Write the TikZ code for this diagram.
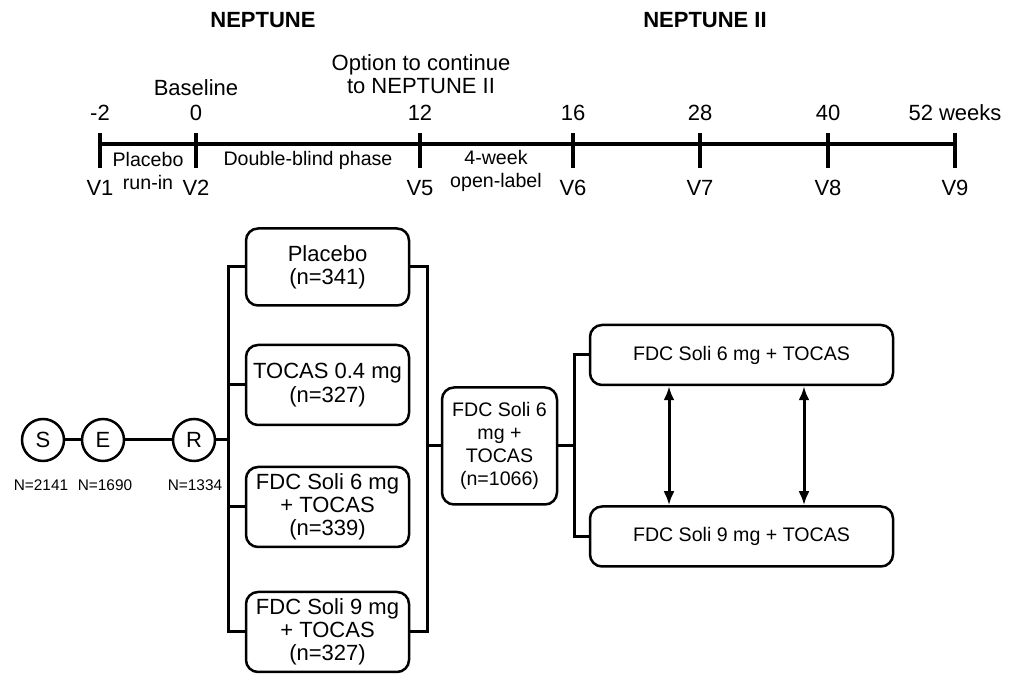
\documentclass[tikz,border=0pt]{standalone}
\usepackage{fontspec}
\setmainfont{Liberation Sans}
\usetikzlibrary{arrows.meta}
\begin{document}
\begin{tikzpicture}[x=1pt,y=1pt,>={Latex[length=14pt,width=11pt]},
    big/.style={font=\fontsize{22}{23.5}\selectfont},
    mid/.style={font=\fontsize{19.6}{23}\selectfont,align=center},
    small/.style={font=\fontsize{15.4}{17}\selectfont},
    link/.style={line width=3pt},
    tickline/.style={line width=3.4pt},
    arm/.style={draw,line width=2.5pt,rounded corners=12pt,minimum width=163pt,
        minimum height=80pt,inner sep=1pt,align=center,
        font=\fontsize{22}{23.3}\selectfont},
    stage/.style={draw,circle,line width=2.5pt,minimum size=42pt,inner sep=0pt,big}]
    \useasboundingbox (0,0) rectangle (1021,674);
    % titles
    \node[font=\bfseries\fontsize{22}{24}\selectfont] (tN1) at (263,654) {NEPTUNE};
    \node[font=\bfseries\fontsize{22}{24}\selectfont] (tN2) at (705,654) {NEPTUNE II};
    %===========================================
    % time line
    \draw[tickline] (100,530) -- (955,530);
    \foreach \x/\w/\v in {100/-2/V1,196/0/V2,420/12/V5,573/16/V6,
                          700/28/V7,828/40/V8,955/52 weeks/V9}{
        \draw[tickline] (\x,541) -- (\x,506);
        \node[big] (w\v) at (\x,561) {\w};
        \node[big] (n\v) at (\x,486) {\v};}
    \node[big] (base) at (196,586) {Baseline};
    \node[big,align=center] (opt) at (421,600) {Option to continue\\to NEPTUNE II};
    \node[mid] (runin) at (148,503) {Placebo\\run-in};
    \node[mid] (dbl) at (308,514) {Double-blind phase};
    \node[mid] (open) at (496,503) {4-week\\open-label};
    %===========================================
    % flow
    \node[stage] (S) at (43,234) {S};
    \node[stage] (E) at (103,234) {E};
    \node[stage] (R) at (194,234) {R};
    \node[small] (nS) at (41,189) {N=2141};
    \node[small] (nE) at (105,189) {N=1690};
    \node[small] (nR) at (195,189) {N=1334};
    \node[arm,minimum height=77pt] (arm1) at (327.5,407) {Placebo\\(n=341)};
    \node[arm] (arm2) at (327.5,289) {TOCAS 0.4 mg\\(n=327)};
    \node[arm] (arm3) at (327.5,167) {FDC Soli 6 mg\\+ TOCAS\\(n=339)};
    \node[arm] (arm4) at (327.5,42) {FDC Soli 9 mg\\+ TOCAS\\(n=327)};
    \node[arm,minimum width=115pt,minimum height=117pt,mid] (ext) at (499.5,228)
        {FDC Soli 6\\mg +\\TOCAS\\(n=1066)};
    \node[arm,minimum width=303pt,minimum height=60pt,mid] (soli6) at (741.5,319)
        {FDC Soli 6 mg + TOCAS};
    \node[arm,minimum width=303pt,minimum height=60pt,mid] (soli9) at (741.5,137.5)
        {FDC Soli 9 mg + TOCAS};
    \coordinate (busL) at (228,0);
    \coordinate (busR) at (427,0);
    \coordinate (busX) at (574,0);
    \draw[link] (S) -- (E);
    \draw[link] (E) -- (R);
    \draw[link] (R) -- (busL |- R);
    \draw[link] (arm1.west) -| (busL |- arm4) -- (arm4.west);
    \draw[link] (arm2.west) -- (busL |- arm2);
    \draw[link] (arm3.west) -- (busL |- arm3);
    \draw[link] (arm1.east) -| (busR |- arm4) -- (arm4.east);
    \draw[link] (busR |- ext) -- (ext.west);
    \draw[link] (ext.east) -- (busX |- ext);
    \draw[link] (soli6.west) -| (busX |- soli9) -- (soli9.west);
    \draw[link,<->] ([xshift=-72.5pt]soli6.south) -- ([xshift=-72.5pt]soli9.north);
    \draw[link,<->] ([xshift=62.5pt]soli6.south) -- ([xshift=62.5pt]soli9.north);
\end{tikzpicture}
\end{document}
